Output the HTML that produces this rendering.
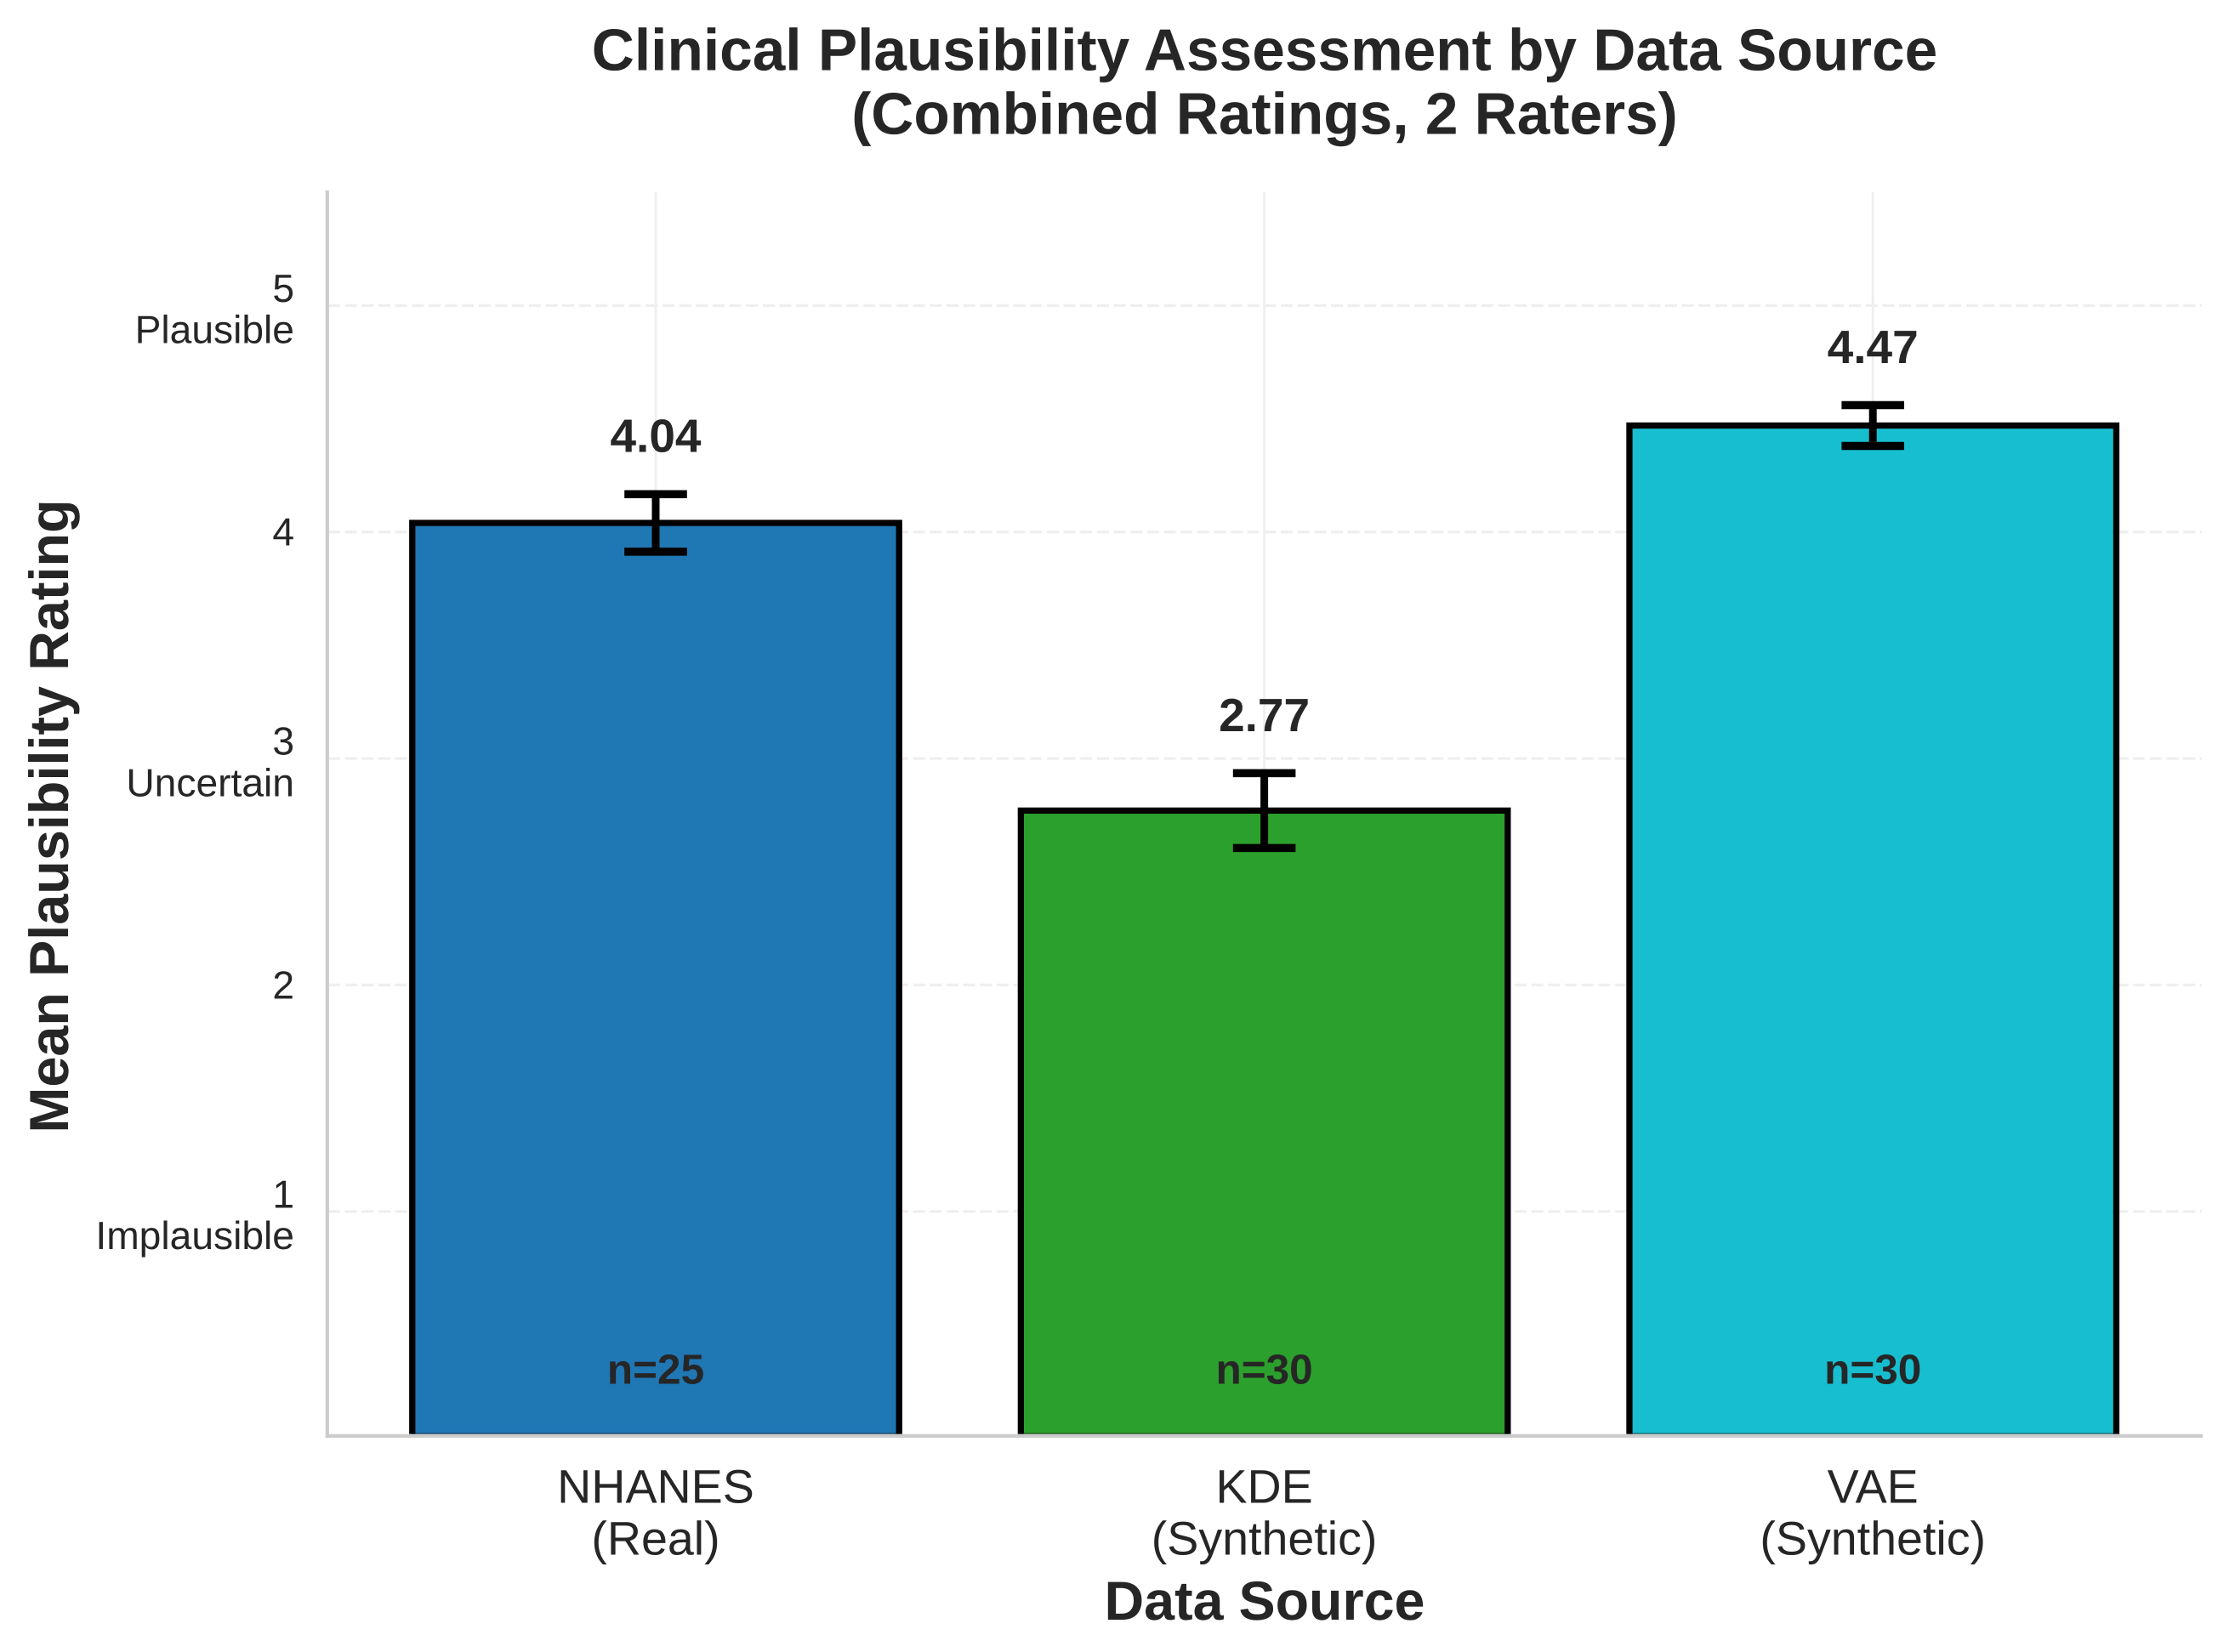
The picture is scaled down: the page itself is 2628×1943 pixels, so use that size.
<!DOCTYPE html>
<html lang="en">
<head>
<meta charset="utf-8">
<title>Clinical Plausibility Assessment by Data Source</title>
<style>
  html, body { margin: 0; padding: 0; background: #fff; }
  svg { display: block; }
  text { font-family: "Liberation Sans", Arial, sans-serif; fill: #262626; text-rendering: geometricPrecision; }
</style>
</head>
<body>
<svg id="chart" xmlns="http://www.w3.org/2000/svg" width="2628" height="1943" viewBox="0 0 2628 1943">
  <rect x="0" y="0" width="2628" height="1943" fill="#ffffff"/>
  <defs>
    <clipPath id="plot-clip"><rect x="384.8" y="224" width="2205" height="1462.7"/></clipPath>
  </defs>
  <g id="grid"></g>
  <g id="bars" clip-path="url(#plot-clip)"></g>
  <g id="errors"></g>
  <g id="labels"></g>
  <rect x="382.7" y="224" width="4.2" height="1467" fill="#cccccc"/>
  <rect x="382.7" y="1686.7" width="2207.3" height="4.3" fill="#cccccc"/>
  <g id="yticks"></g>
  <g id="xticks"></g>
  <g font-weight="bold" font-size="69.4" text-anchor="middle">
    <text x="1487" y="82.7">Clinical Plausibility Assessment by Data Source</text>
    <text x="1487" y="157.7">(Combined Ratings, 2 Raters)</text>
  </g>
  <text x="1487" y="1905" font-weight="bold" font-size="64.6" text-anchor="middle">Data Source</text>
  <text transform="translate(80 960) rotate(-90)" x="0" y="0" font-weight="bold" font-size="64.8" text-anchor="middle">Mean Plausibility Rating</text>
</svg>
<script>
const categories = ["NHANES", "KDE", "VAE"];
const subCategories = ["(Real)", "(Synthetic)", "(Synthetic)"];
const means = [4.04, 2.77, 4.47];
const errors = [0.127, 0.165, 0.09];
const sampleSizes = [25, 30, 30];
const colors = ["#1f77b4", "#2ca02c", "#17becf"];
const yTickValues = [1, 2, 3, 4, 5];
const yTickNotes = ["Implausible", "", "Uncertain", "", "Plausible"];

const NS = "http://www.w3.org/2000/svg";
function xScale(i) { return 771 + 715.6 * i; }
function yScale(v) { return 1691.3 - 266.4 * v; }
function make(tag, parent, props, content) {
  const el = document.createElementNS(NS, tag);
  for (const k in props) el.setAttribute(k, props[k]);
  if (content !== undefined) el.textContent = content;
  parent.appendChild(el);
  return el;
}
const gridG = document.getElementById("grid");
const barsG = document.getElementById("bars");
const errG = document.getElementById("errors");
const labG = document.getElementById("labels");
const yG = document.getElementById("yticks");
const xG = document.getElementById("xticks");

yTickValues.forEach(function (v, i) {
  const line = make("line", gridG, { x1: 386, x2: 2589, y1: yScale(v), y2: yScale(v), stroke: "#efefef", "stroke-width": 3.3, "stroke-dasharray": "14 5.65" });
  
  
  const tick = make("text", yG, { x: 346, y: yTickNotes[i] ? yScale(v) - 4.5 : yScale(v) + 16, "font-size": 46.2, "text-anchor": "end" }, String(v));
  
  
  if (yTickNotes[i]) {
    const note = make("text", yG, { x: 346, y: yScale(v) + 44.2, "font-size": 46.2, "text-anchor": "end" }, yTickNotes[i]);
    
    
  }
});

categories.forEach(function (c, i) {
  const cx = xScale(i);
  const vline = make("line", gridG, { x1: cx, x2: cx, y1: 226, y2: 1687, stroke: "#efefef", "stroke-width": 2.9 });
  
  

  const left = xScale(i - 0.4), right = xScale(i + 0.4);
  const bar = make("rect", barsG, { x: left, y: yScale(means[i]), width: right - left, height: yScale(0) - yScale(means[i]), fill: colors[i], stroke: "#000000", "stroke-width": 7.3 });
  
  
  const sliver = make("line", barsG, { x1: left, x2: right, y1: 1686.1, y2: 1686.1, stroke: "#000000", "stroke-opacity": 0.6, "stroke-width": 1.2 });
  
  

  const top = yScale(means[i] + errors[i]), bottom = yScale(means[i] - errors[i]);
  const stem = make("line", errG, { x1: cx, x2: cx, y1: top, y2: bottom, stroke: "#000000", "stroke-width": 9 });
  
  
  const capTop = make("line", errG, { x1: cx - 36.8, x2: cx + 36.8, y1: top, y2: top, stroke: "#000000", "stroke-width": 9.5 });
  
  
  const capBottom = make("line", errG, { x1: cx - 36.8, x2: cx + 36.8, y1: bottom, y2: bottom, stroke: "#000000", "stroke-width": 9.5 });
  
  

  const value = make("text", labG, { x: cx, y: top - 49.5, "font-size": 55, "font-weight": "bold", "text-anchor": "middle" }, means[i].toFixed(2));
  
  
  const nLabel = make("text", labG, { x: cx, y: yScale(0.24), "font-size": 49.5, "font-weight": "bold", "text-anchor": "middle" }, "n=" + sampleSizes[i]);
  
  

  const cat = make("text", xG, { x: cx, y: 1767.3, "font-size": 55.6, "text-anchor": "middle" }, c);
  
  
  const sub = make("text", xG, { x: cx, y: 1828.3, "font-size": 55.6, "text-anchor": "middle" }, subCategories[i]);
  
  
});
</script>
</body>
</html>
